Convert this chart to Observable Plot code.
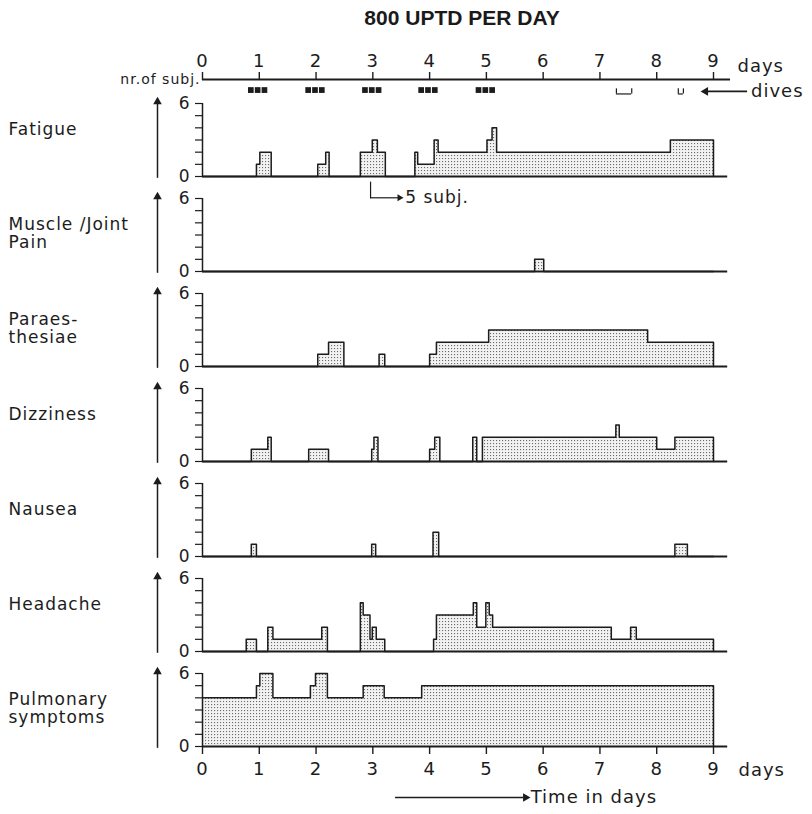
<!DOCTYPE html>
<html><head><meta charset="utf-8">
<script src="https://cdn.jsdelivr.net/npm/d3@7"></script>
<script src="https://cdn.jsdelivr.net/npm/@observablehq/plot@0.6"></script>
<style>
body{margin:0;background:#fff;width:812px;height:814px;overflow:hidden;}
#title{width:812px;height:34px;box-sizing:border-box;padding-left:112px;text-align:center;font:bold 21px/36px "Liberation Sans",sans-serif;color:#1a1a1a;}
svg{overflow:visible;display:block}
svg text{letter-spacing:1px}
</style></head><body>
<div id="title">800 UPTD PER DAY</div>
<div id="top"></div>
<div id="main"></div>
<script>
// ---- data ----
const symptoms = ["Fatigue","Muscle/Joint Pain","Paraesthesiae","Dizziness","Nausea","Headache","Pulmonary symptoms"];
const symptomLabels = ["Fatigue","Muscle /Joint\nPain","Paraes-\nthesiae","Dizziness","Nausea","Headache","Pulmonary\nsymptoms"];
const dayTicks = [0,1,2,3,4,5,6,7,8,9];
const yTicks = [0,1,2,3,4,5,6];
// [day, number of subjects] : value holds from this day until the next entry
const fatigue = [[0,0],[0.95,1],[1.01,2],[1.21,0],[2.03,1],[2.17,2],[2.23,0],[2.78,2],[2.99,3],[3.08,2],[3.22,0],[3.74,2],[3.79,1],[4.08,3],[4.15,2],[5.01,3],[5.10,4],[5.18,2],[8.24,3],[9,0]];
const muscleJointPain = [[0,0],[5.85,1],[6.01,0],[9,0]];
const paraesthesiae = [[0,0],[2.03,1],[2.22,2],[2.49,0],[3.11,1],[3.21,0],[4.0,1],[4.12,2],[5.04,3],[7.84,2],[9,0]];
const dizziness = [[0,0],[0.86,1],[1.15,2],[1.21,0],[1.87,1],[2.22,0],[2.98,1],[3.02,2],[3.09,0],[4.0,1],[4.09,2],[4.18,0],[4.76,2],[4.83,0],[4.93,2],[7.28,3],[7.34,2],[8.0,1],[8.32,2],[9,0]];
const nausea = [[0,0],[0.86,1],[0.95,0],[2.98,1],[3.05,0],[4.06,2],[4.16,0],[8.32,1],[8.54,0],[9,0]];
const headache = [[0,0],[0.77,1],[0.95,0],[1.15,2],[1.24,1],[2.10,2],[2.20,0],[2.78,4],[2.83,3],[2.95,1],[2.99,2],[3.06,1],[3.21,0],[4.07,1],[4.12,3],[4.77,4],[4.83,2],[4.99,4],[5.05,3],[5.11,2],[7.20,1],[7.54,2],[7.64,1],[9,0]];
const pulmonary = [[0,4],[0.95,5],[1.01,6],[1.24,4],[1.90,5],[1.99,6],[2.20,4],[2.83,5],[3.20,4],[3.86,5],[9,0]];
const seriesList = [fatigue, muscleJointPain, paraesthesiae, dizziness, nausea, headache, pulmonary];
const diveTimes = [0.86,0.98,1.10, 1.87,1.99,2.11, 2.87,2.99,3.11, 3.86,3.98,4.10, 4.87,4.99,5.11];
const openDives = [[7.29,7.56],[8.38,8.47]];

// ---- layout ----
const W = 812, ML = 202, MR = 99;
const ink = "#1c1c1c";
const baseStyle = {fontFamily: "DejaVu Sans", fontSize: "17px", color: ink, background: "white"};

const topPlot = Plot.plot({
  width: W, height: 62, marginLeft: ML, marginRight: MR, marginTop: 45, marginBottom: 0,
  x: {domain: [0, 9]},
  y: {domain: [-1, 0], axis: null},
  style: {...baseStyle, fontSize: "18px"},
  marks: [
    Plot.axisX({anchor: "top", ticks: dayTicks, tickSize: 8, tickPadding: 5, label: null, strokeWidth: 1.4}),
    Plot.ruleY([0], {x1: 0, x2: 9.3, stroke: ink, strokeWidth: 1.8}),
    Plot.rect(diveTimes, {x1: d => d - 0.05, x2: d => d + 0.05, y1: -0.48, y2: -0.82, fill: ink}),
    Plot.ruleY(openDives, {x1: d => d[0], x2: d => d[1], y: -0.85, stroke: ink, strokeWidth: 1.2}),
    Plot.ruleX(openDives.flat(), {x: d => d, y1: -0.55, y2: -0.85, stroke: ink, strokeWidth: 1.2}),
    Plot.text(["nr.of subj."], {frameAnchor: "top-left", dx: -2, dy: -5, textAnchor: "end", fontSize: 14}),
    Plot.text(["days"], {frameAnchor: "top-right", dx: 24, dy: -20, textAnchor: "start"}),
    Plot.ruleY([-0.7], {x1: 8.9, x2: 9.6, stroke: ink, strokeWidth: 1.6}),
    Plot.dot([0], {x: 8.86, y: -0.7, symbol: "triangle", r: 3.2, rotate: -90, fill: ink, stroke: "none"}),
    Plot.text(["dives"], {x: 9.66, y: -0.7, textAnchor: "start"})
  ]
});
document.getElementById("top").append(topPlot);

const rows = [];
symptoms.forEach((s, i) => seriesList[i].forEach(([x, v]) => rows.push({symptom: s, x, v})));
const last = symptoms[symptoms.length - 1];

const mainPlot = Plot.plot({
  width: W, height: 718, marginLeft: ML, marginRight: MR, marginTop: 6, marginBottom: 67,
  x: {domain: [0, 9]},
  y: {domain: [0, 6]},
  fy: {domain: symptoms, axis: null, paddingInner: 0.228, paddingOuter: 0},
  style: baseStyle,
  marks: [
    Plot.areaY(rows, {x: "x", y: "v", fy: "symptom", curve: "step-after", fill: "url(#stipple)"}),
    Plot.ruleY(symptoms, {fy: d => d, y: 0, x1: 0, x2: 9.25, stroke: ink, strokeWidth: 2}),
    Plot.ruleX(symptoms, {fy: d => d, x: 0, y1: 0, y2: 6, stroke: ink, strokeWidth: 1.5}),
    Plot.lineY(rows, {x: "x", y: "v", fy: "symptom", curve: "step-after", stroke: ink, strokeWidth: 1.5}),
    Plot.axisY({ticks: yTicks, tickSize: 7, tickPadding: 5, label: null, strokeWidth: 1.2,
      tickFormat: d => (d === 0 || d === 6) ? d : ""}),
    Plot.axisX({ticks: dayTicks, tickSize: 8, tickPadding: 8, label: null, fontSize: 18, strokeWidth: 1.4}),
    // upward arrows left of each panel
    Plot.ruleX(symptoms, {fy: d => d, x: 0, y1: -0.15, y2: 6.0, dx: -45, stroke: ink, strokeWidth: 1.5}),
    Plot.dot(symptoms, {fy: d => d, x: 0, y: 6.15, dx: -45, symbol: "triangle", r: 3.2, fill: ink, stroke: "none"}),
    Plot.text(symptoms, {fy: d => d, text: (d, i) => symptomLabels[i], frameAnchor: "top-left",
      dx: -194, dy: 18, textAnchor: "start", lineAnchor: "top", lineHeight: 1.1}),
    // "5 subj." annotation
    Plot.line([[2.96, -0.45], [2.96, -1.75]], {fy: () => symptoms[0], stroke: ink, strokeWidth: 1.2}),
    Plot.ruleY([-1.75], {fy: () => symptoms[0], x1: 2.96, x2: 3.45, stroke: ink, strokeWidth: 1.2}),
    Plot.dot([0], {fy: () => symptoms[0], x: 3.47, y: -1.75, symbol: "triangle", r: 2.6, rotate: 90, fill: ink, stroke: "none"}),
    Plot.text(["5 subj."], {fy: () => symptoms[0], x: 3.57, y: -1.75, textAnchor: "start"}),
    // bottom labels
    Plot.text(["days"], {fy: () => last, x: 9, y: 0, dx: 25, dy: 24, textAnchor: "start", fontSize: 18}),
    Plot.ruleY([0], {fy: () => last, x1: 3.4, x2: 5.66, dy: 51, stroke: ink, strokeWidth: 1.6}),
    Plot.dot([0], {fy: () => last, x: 5.69, y: 0, dy: 51, symbol: "triangle", r: 3.2, rotate: 90, fill: ink, stroke: "none"}),
    Plot.text(["Time in days"], {fy: () => last, x: 5.78, y: 0, dy: 51, textAnchor: "start", fontSize: 18})
  ]
});
const svg = mainPlot.tagName.toLowerCase() === "svg" ? mainPlot : mainPlot.querySelector("svg");
const ns = "http://www.w3.org/2000/svg";
const defs = document.createElementNS(ns, "defs");
defs.innerHTML = '<pattern id="stipple" width="3" height="3" patternUnits="userSpaceOnUse"><rect width="3" height="3" fill="#f2f2f2"/><rect x="1" y="1" width="1.1" height="1.1" fill="#6a6a6a"/></pattern>';
svg.insertBefore(defs, svg.firstChild);
document.getElementById("main").append(mainPlot);
</script>
</body></html>
